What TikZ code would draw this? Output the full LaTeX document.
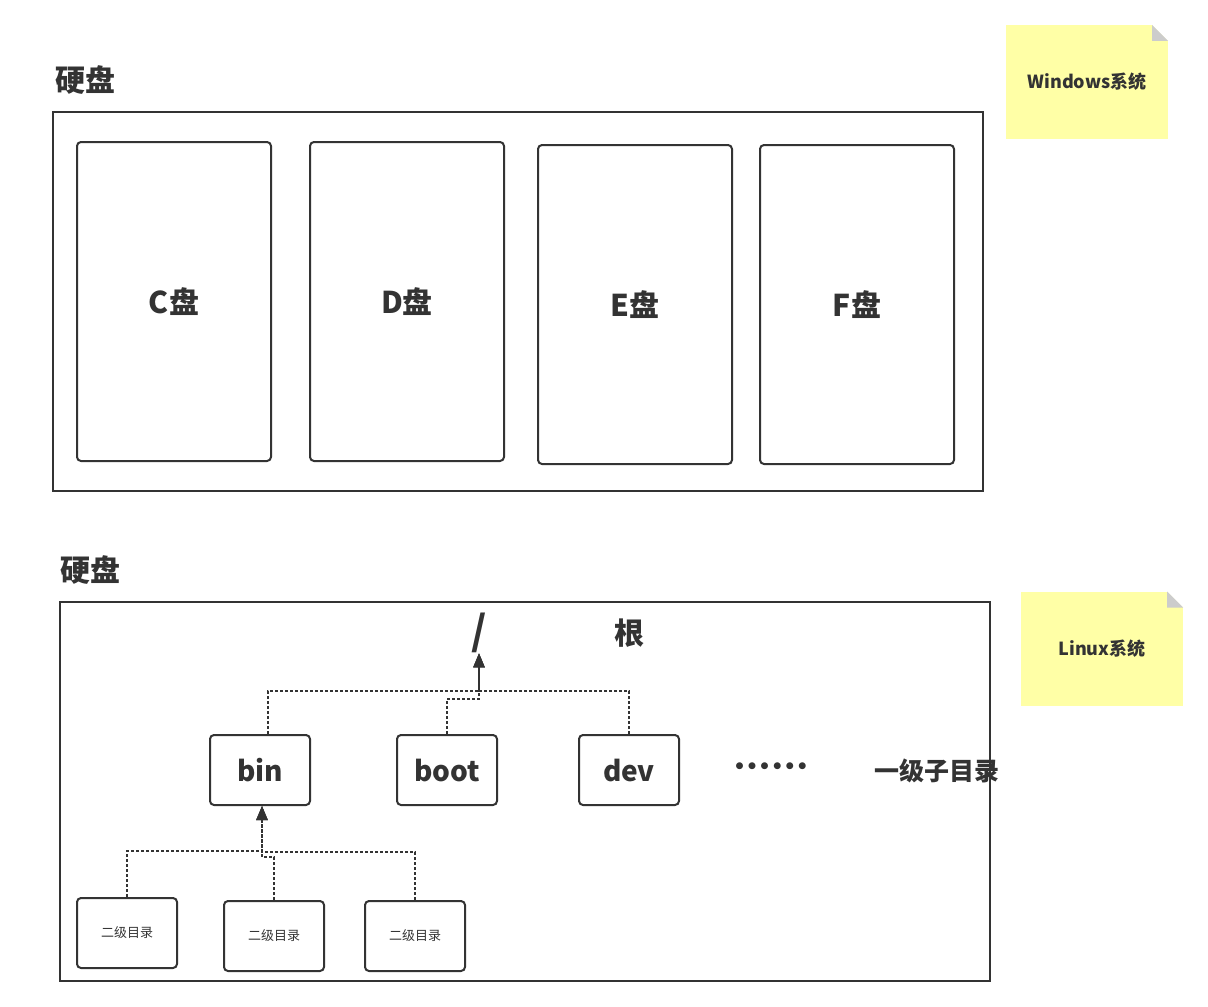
\documentclass[tikz,border=0pt]{standalone}
\usepackage{fontspec}
\setmainfont{Noto Sans CJK SC}
\newfontfamily\dotfont{DejaVu Sans}
\usetikzlibrary{positioning,arrows.meta}

\definecolor{inkcol}{HTML}{333333}
\definecolor{notefill}{HTML}{FFFFA6}
\definecolor{foldcol}{HTML}{CCCCCC}

\tikzset{
  frame/.style={draw=inkcol, line width=1pt, inner sep=0pt},
  part/.style={draw=inkcol, line width=1pt, rounded corners=2pt, minimum width=97pt, minimum height=159.5pt,
    text=inkcol, font=\bfseries\fontsize{15}{18}\selectfont},
  dir/.style={draw=inkcol, line width=1pt, rounded corners=2pt, minimum width=50pt, minimum height=35pt,
    text=inkcol, font=\bfseries\fontsize{14}{17}\selectfont},
  subdir/.style={draw=inkcol, line width=1pt, rounded corners=2pt, minimum width=50pt, minimum height=35pt,
    text=inkcol, font=\fontsize{6.5}{8}\selectfont},
  title/.style={text=inkcol, font=\bfseries\fontsize{15}{18}\selectfont},
  note/.style={fill=notefill, minimum width=81pt, minimum height=57pt, text=inkcol,
    font=\bfseries\fontsize{9}{11}\selectfont,
    path picture={
      \fill[white] (path picture bounding box.north east) -- ++(-8pt,0pt) -- ++(8pt,-8pt) -- cycle;
      \fill[foldcol] ([xshift=-8pt]path picture bounding box.north east) -- ++(0pt,-8pt) -- ++(8pt,0pt) -- cycle;
    }},
  link/.style={draw=inkcol, line width=1pt, dash pattern=on 1.5pt off 1pt, -{Triangle[length=7pt,width=5.5pt]}}
}

\begin{document}
\begin{tikzpicture}[x=0.5pt,y=-0.5pt]
\useasboundingbox (0,0) rectangle (1208,1006);

\node[title] (hd1) at (85,80) {硬盘};
\node[frame, minimum width=465pt, minimum height=189.5pt] (disk1) at (518,301.5) {};
\node[part] (cdisk) at (174,301.5) {C盘};
\node[part, right=18.5pt of cdisk] (ddisk) {D盘};
\node[part, right=16pt of ddisk, yshift=-1.5pt] (edisk) {E盘};
\node[part, right=13pt of edisk] (fdisk) {F盘};
\node[note] (win) at (1087,82) {Windows系统};

\node[title] (hd2) at (90,570) {硬盘};
\node[frame, minimum width=465pt, minimum height=189.5pt] (disk2) at (525,791.5) {};
\node[text=inkcol, inner sep=0pt, font=\bfseries\fontsize{20}{24}\selectfont] (root) at (479,633) {/};
\node[title] (rootlbl) at (629,633) {根};
\node[note] (linux) at (1102,648.5) {Linux系统};

\node[dir] (bin) at (260,770) {bin};
\node[dir, right=42.5pt of bin] (boot) {boot};
\node[dir, right=40pt of boot] (dev) {dev};
\node[text=inkcol, font=\dotfont\bfseries\fontsize{9.8}{12}\selectfont] (more) at (771,768) {••••••};
\node[text=inkcol, font=\bfseries\fontsize{12.5}{15}\selectfont] (lvl1) at (937,771) {一级子目录};

\node[subdir] (sub1) at (127,933) {二级目录};
\node[subdir, right=22.5pt of sub1, yshift=-1.5pt] (sub2) {二级目录};
\node[subdir, right=19.5pt of sub2] (sub3) {二级目录};

\draw[link] ([xshift=4pt]bin.north) -- ++(0,-43) -| (root.south);
\draw[link] (boot.north) -- ++(0,-35) -| (root.south);
\draw[link] (dev.north) -- ++(0,-43) -| (root.south);

\draw[link] (sub1.north) -- ++(0,-46) -| ([xshift=1pt]bin.south);
\draw[link] (sub2.north) -- ++(0,-43) -| ([xshift=1pt]bin.south);
\draw[link] (sub3.north) -- ++(0,-48) -| ([xshift=1pt]bin.south);
\end{tikzpicture}
\end{document}
